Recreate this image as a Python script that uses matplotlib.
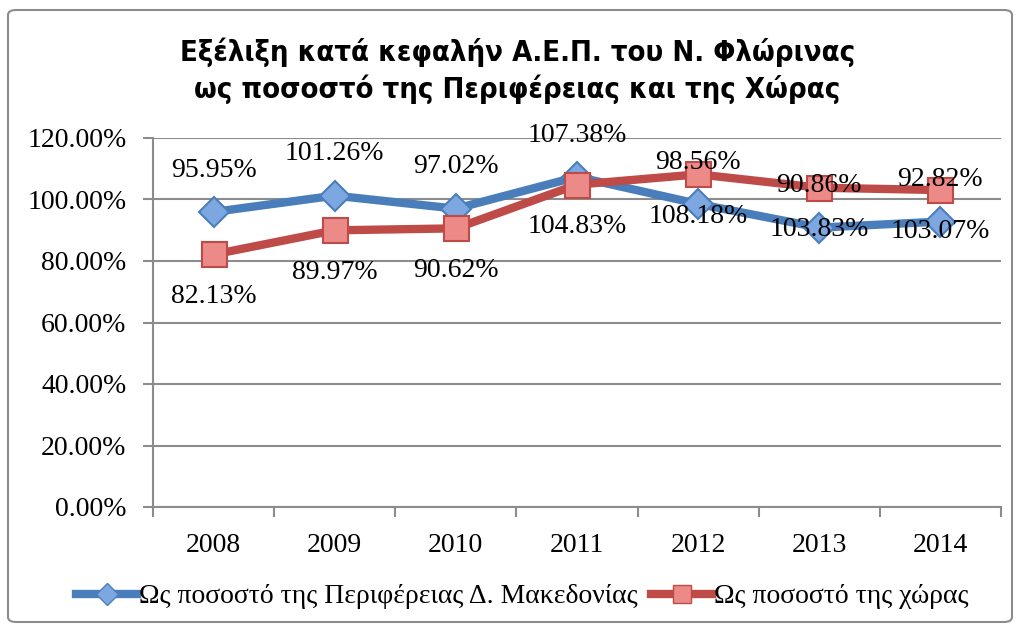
import matplotlib.pyplot as plt
from matplotlib.patches import FancyBboxPatch
from matplotlib.lines import Line2D

# Data
years = ['2008', '2009', '2010', '2011', '2012', '2013', '2014']
perifereia = [95.95, 101.26, 97.02, 107.38, 98.56, 90.86, 92.82]
xora = [82.13, 89.97, 90.62, 104.83, 108.18, 103.83, 103.07]
yticks = [0, 20, 40, 60, 80, 100, 120]

title = 'Εξέλιξη κατά κεφαλήν Α.Ε.Π. του Ν. Φλώρινας\nως ποσοστό της Περιφέρειας και της Χώρας'
label1 = 'Ως ποσοστό της Περιφέρειας Δ. Μακεδονίας'
label2 = 'Ως ποσοστό της χώρας'

blue = '#4A7EBB'
blue_fill = '#7DA7E0'
red = '#BE4B48'
red_fill = '#EC8A87'
grid_col = '#8C8C8C'
serif = 'Liberation Serif'

fig = plt.figure(figsize=(10.18, 6.28), dpi=100)
ax = fig.add_axes([153 / 1018, 121 / 628, 848 / 1018, 369 / 628])

x = list(range(len(years)))
ax.plot(x, perifereia, color=blue, lw=6, marker='D', markersize=15,
        markerfacecolor=blue_fill, markeredgecolor=blue, markeredgewidth=1.5,
        solid_joinstyle='round', zorder=3)
ax.plot(x, xora, color=red, lw=6, marker='s', markersize=18,
        markerfacecolor=red_fill, markeredgecolor=red, markeredgewidth=1.5,
        solid_joinstyle='round', zorder=4)

# data labels: blue above, red below
for i in x:
    ax.annotate(f'{perifereia[i]:.2f}%', (i, perifereia[i]), xytext=(0, 30),
                textcoords='offset points', ha='center', va='center',
                fontsize=20, family=serif, zorder=5)
    ax.annotate(f'{xora[i]:.2f}%', (i, xora[i]), xytext=(0, -30),
                textcoords='offset points', ha='center', va='center',
                fontsize=20, family=serif, zorder=5)

ax.set_xlim(-0.5, len(years) - 0.5)
ax.set_ylim(0, 120)
ax.set_yticks(yticks)
ax.set_yticklabels([f'{v:.2f}%' for v in yticks], family=serif, fontsize=20)
ax.set_xticks(x)
ax.set_xticklabels(years, family=serif, fontsize=20)
ax.set_xticks([i - 0.5 for i in range(len(years) + 1)], minor=True)
ax.tick_params(axis='x', which='major', length=0, pad=19)
ax.tick_params(axis='x', which='minor', length=7, color=grid_col, width=1.5)
ax.tick_params(axis='y', length=7, color=grid_col, width=1.5, pad=12)

ax.grid(axis='y', color=grid_col, lw=1.5)
ax.set_axisbelow(True)
for s in ['top', 'right']:
    ax.spines[s].set_visible(False)
for s in ['left', 'bottom']:
    ax.spines[s].set_color(grid_col)
    ax.spines[s].set_linewidth(1.5)

fig.text(0.508, 0.887, title, ha='center', va='center', fontsize=21,
         fontweight='bold', fontstretch='condensed', family='DejaVu Sans',
         linespacing=1.3)

handles = [
    Line2D([], [], color=blue, lw=6, marker='D', markersize=11,
           markerfacecolor=blue_fill, markeredgecolor=blue),
    Line2D([], [], color=red, lw=6, marker='s', markersize=13,
           markerfacecolor=red_fill, markeredgecolor=red),
]
fig.legend(handles, [label1, label2], loc='center', bbox_to_anchor=(0.513, 0.05),
           ncol=2, frameon=False, prop={'family': serif, 'size': 20},
           handlelength=2.2, handletextpad=0.05, columnspacing=0.5)

border = FancyBboxPatch((8 / 1018, 6 / 628), 1004 / 1018, 612 / 628,
                        boxstyle='round,pad=0,rounding_size=0.008',
                        transform=fig.transFigure, fill=False,
                        edgecolor='#8C8C8C', lw=1.5)
fig.patches.append(border)

fig.savefig('out.png', dpi=100)
